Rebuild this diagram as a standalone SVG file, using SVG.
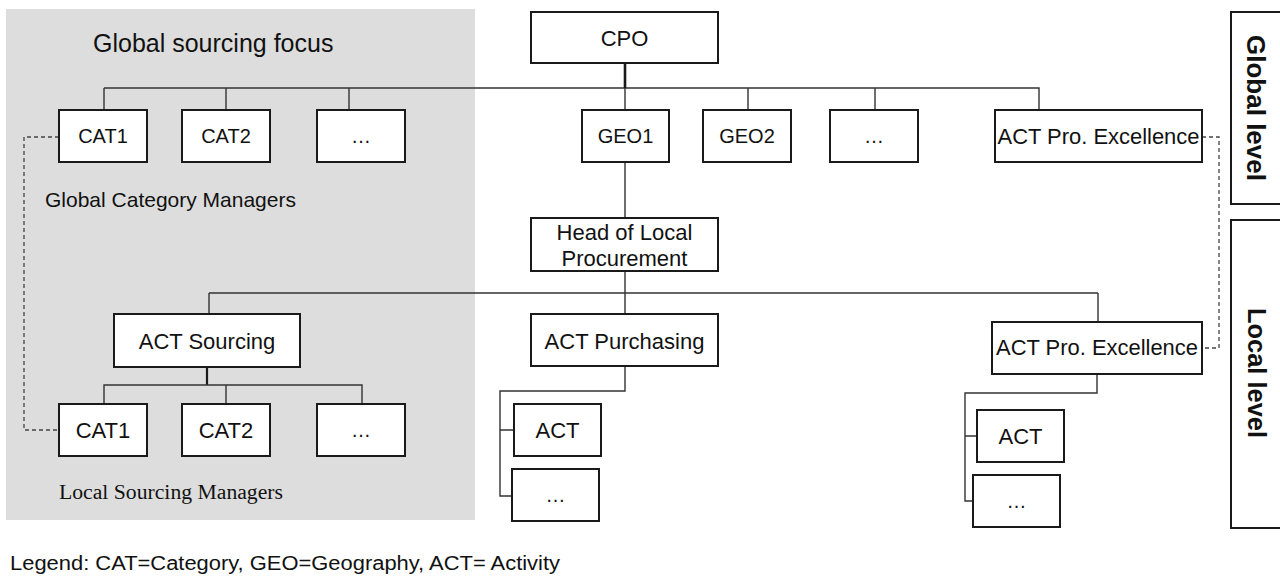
<svg xmlns="http://www.w3.org/2000/svg" width="1280" height="577" viewBox="0 0 1280 577">
<style>
.box{fill:#fff;stroke:#1a1a1a;stroke-width:2}
.lbl{font-family:"Liberation Sans",Arial,sans-serif;font-size:22px;fill:#111;text-anchor:middle}
.sm{font-size:20px}
.con{fill:none;stroke:#333;stroke-width:1.4}
.dash{fill:none;stroke:#444;stroke-width:1.3;stroke-dasharray:4 3}
.lvl{font-family:"Liberation Sans",Arial,sans-serif;font-size:25px;font-weight:bold;fill:#111;text-anchor:middle}
.sans{font-family:"Liberation Sans",Arial,sans-serif;fill:#111}
</style>
<rect x="0" y="0" width="1280" height="577" fill="#fff"/>
<rect id="global-sourcing-area" x="6" y="9" width="469" height="511" fill="#dddddd"/>
<text class="sans" x="93" y="52" font-size="25">Global sourcing focus</text>
<text class="sans" x="45" y="207" font-size="21">Global Category Managers</text>
<text x="59" y="499" font-family="'Liberation Serif','Times New Roman',serif" font-size="20" fill="#111" textLength="224" lengthAdjust="spacingAndGlyphs">Local Sourcing Managers</text>

<g id="connectors">
<path class="con" d="M104 88H1039V110M104 88V110M226 88V110M349 88V110M625 88V110M748 88V110M875 88V110"/>
<path d="M625 63V88" fill="none" stroke="#1a1a1a" stroke-width="2.6"/>
<path class="con" d="M625 162V218"/>
<path class="con" d="M625 271V314M209 293H1098M209 293V314M1098 293V322"/>
<path d="M207 367V385" fill="none" stroke="#1a1a1a" stroke-width="2.2"/>
<path class="con" d="M104 404V385H362V404M226 385V404"/>
<path class="con" d="M625 366V391H500V496H512M500 430H514"/>
<path class="con" d="M1097 374V393H965V501H973M965 436H977"/>
<path class="dash" d="M59 137H24V430H59"/>
<path class="dash" d="M1202 137H1219V348H1202"/>
</g>

<g id="cpo"><rect class="box" x="531" y="12" width="187" height="51"/><text class="lbl" x="624.5" y="46">CPO</text></g>
<g id="cat1-global"><rect class="box" x="59" y="110" width="88" height="52"/><text class="lbl sm" x="103" y="143">CAT1</text></g>
<g id="cat2-global"><rect class="box" x="182" y="110" width="88" height="52"/><text class="lbl sm" x="226" y="143">CAT2</text></g>
<g id="cat-more-global"><rect class="box" x="317" y="110" width="88" height="52"/><text class="lbl sm" x="361" y="143">…</text></g>
<g id="geo1"><rect class="box" x="582" y="110" width="87" height="52"/><text class="lbl sm" x="625.5" y="143">GEO1</text></g>
<g id="geo2"><rect class="box" x="703" y="110" width="88" height="52"/><text class="lbl sm" x="747" y="143">GEO2</text></g>
<g id="geo-more"><rect class="box" x="830" y="110" width="88" height="52"/><text class="lbl sm" x="874" y="143">…</text></g>
<g id="act-pro-global"><rect class="box" x="995" y="110" width="207" height="52"/><text class="lbl" x="1098.5" y="144" textLength="202" lengthAdjust="spacingAndGlyphs">ACT Pro. Excellence</text></g>
<g id="head-local"><rect class="box" x="531" y="218" width="187" height="53"/><text class="lbl" x="624.5" y="240">Head of Local</text><text class="lbl" x="624.5" y="266">Procurement</text></g>
<g id="act-sourcing"><rect class="box" x="114" y="314" width="186" height="53"/><text class="lbl" x="207" y="349">ACT Sourcing</text></g>
<g id="act-purchasing"><rect class="box" x="531" y="314" width="187" height="52"/><text class="lbl" x="624.5" y="349">ACT Purchasing</text></g>
<g id="act-pro-local"><rect class="box" x="992" y="322" width="210" height="52"/><text class="lbl" x="1097" y="355" textLength="202" lengthAdjust="spacingAndGlyphs">ACT Pro. Excellence</text></g>
<g id="cat1-local"><rect class="box" x="59" y="404" width="88" height="52"/><text class="lbl" x="103" y="438">CAT1</text></g>
<g id="cat2-local"><rect class="box" x="182" y="404" width="88" height="52"/><text class="lbl" x="226" y="438">CAT2</text></g>
<g id="cat-more-local"><rect class="box" x="317" y="404" width="88" height="52"/><text class="lbl sm" x="361" y="437">…</text></g>
<g id="act-purch-child"><rect class="box" x="514" y="404" width="87" height="52"/><text class="lbl" x="557.5" y="438">ACT</text></g>
<g id="act-purch-more"><rect class="box" x="512" y="469" width="87" height="52"/><text class="lbl sm" x="555.5" y="502">…</text></g>
<g id="act-pro-child"><rect class="box" x="977" y="410" width="87" height="52"/><text class="lbl" x="1020.5" y="444">ACT</text></g>
<g id="act-pro-more"><rect class="box" x="973" y="475" width="87" height="52"/><text class="lbl sm" x="1016.5" y="508">…</text></g>

<g id="global-level"><rect class="box" x="1231" y="12" width="60" height="192"/><text class="lvl" transform="translate(1247 108) rotate(90)" textLength="146" lengthAdjust="spacingAndGlyphs">Global level</text></g>
<g id="local-level"><rect class="box" x="1231" y="220" width="60" height="308"/><text class="lvl" transform="translate(1248 373) rotate(90)" textLength="130" lengthAdjust="spacingAndGlyphs">Local level</text></g>

<text id="legend" class="sans" x="10" y="570" font-size="20" textLength="550" lengthAdjust="spacingAndGlyphs">Legend: CAT=Category, GEO=Geography, ACT= Activity</text>
</svg>
